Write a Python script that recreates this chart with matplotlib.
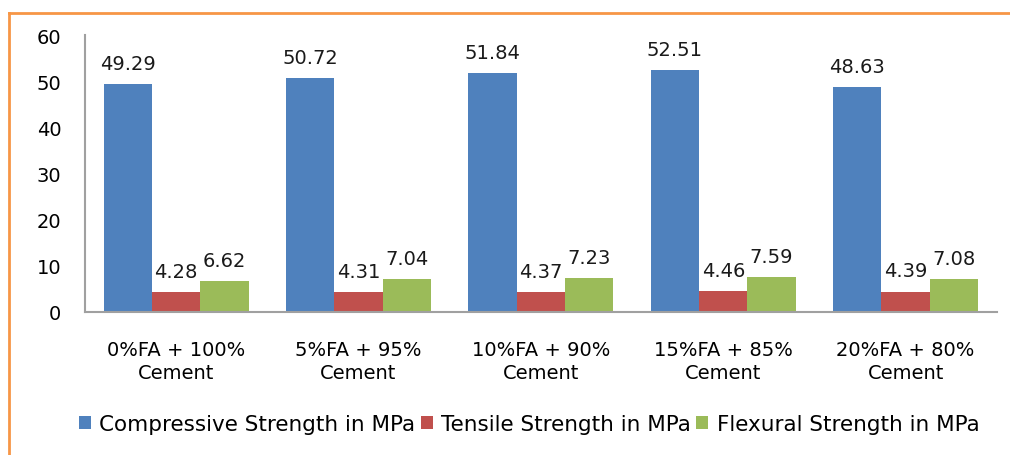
import numpy as np
import matplotlib.pyplot as plt
from matplotlib.lines import Line2D

plt.rcParams["font.family"] = ["DejaVu Sans"]

categories = ["0%FA + 100%\nCement", "5%FA + 95%\nCement", "10%FA + 90%\nCement",
              "15%FA + 85%\nCement", "20%FA + 80%\nCement"]
compressive = [49.29, 50.72, 51.84, 52.51, 48.63]
tensile = [4.28, 4.31, 4.37, 4.46, 4.39]
flexural = [6.62, 7.04, 7.23, 7.59, 7.08]
series_names = ["Compressive Strength in MPa", "Tensile Strength in MPa",
                "Flexural Strength in MPa"]
colors = ["#4F81BD", "#C0504D", "#9BBB59"]
fs = 14

fig = plt.figure(figsize=(10.1, 4.56), dpi=100)
ax = fig.add_axes([0.084, 0.314, 0.903, 0.607])

x = np.arange(len(categories))
w = 0.265
for i, (vals, name, c) in enumerate(zip([compressive, tensile, flexural], series_names, colors)):
    bars = ax.bar(x + (i - 1) * w, vals, w, color=c, label=name)
    for b, v in zip(bars, vals):
        ax.text(b.get_x() + b.get_width() / 2, v + 2.4, f"{v:.2f}",
                ha="center", va="bottom", fontsize=fs, color="#1a1a1a")

ax.set_xlim(-0.5, len(categories) - 0.5)
ax.set_ylim(0, 60)
ax.set_yticks(range(0, 61, 10))
ax.set_xticks(x)
ax.set_xticklabels(categories, fontsize=fs, linespacing=1.3)
ax.tick_params(axis="y", labelsize=fs, length=0, pad=17)
ax.tick_params(axis="x", length=0, pad=20)
for s in ["top", "right"]:
    ax.spines[s].set_visible(False)
for s in ["left", "bottom"]:
    ax.spines[s].set_color("#a0a0a0")
    ax.spines[s].set_linewidth(1.5)

fig.legend(loc="center", bbox_to_anchor=(0.524, 0.068), ncol=3, frameon=False,
           fontsize=15.5, handlelength=0.55, handleheight=0.55, handletextpad=0.4,
           columnspacing=0.25)

# orange chart border (top and left)
fig.add_artist(Line2D([0.009, 1.0], [0.969, 0.969], color="#F79646", lw=2,
                      transform=fig.transFigure))
fig.add_artist(Line2D([0.009, 0.009], [0.0, 0.969], color="#F79646", lw=2,
                      transform=fig.transFigure))

fig.savefig("out.png", dpi=100)
